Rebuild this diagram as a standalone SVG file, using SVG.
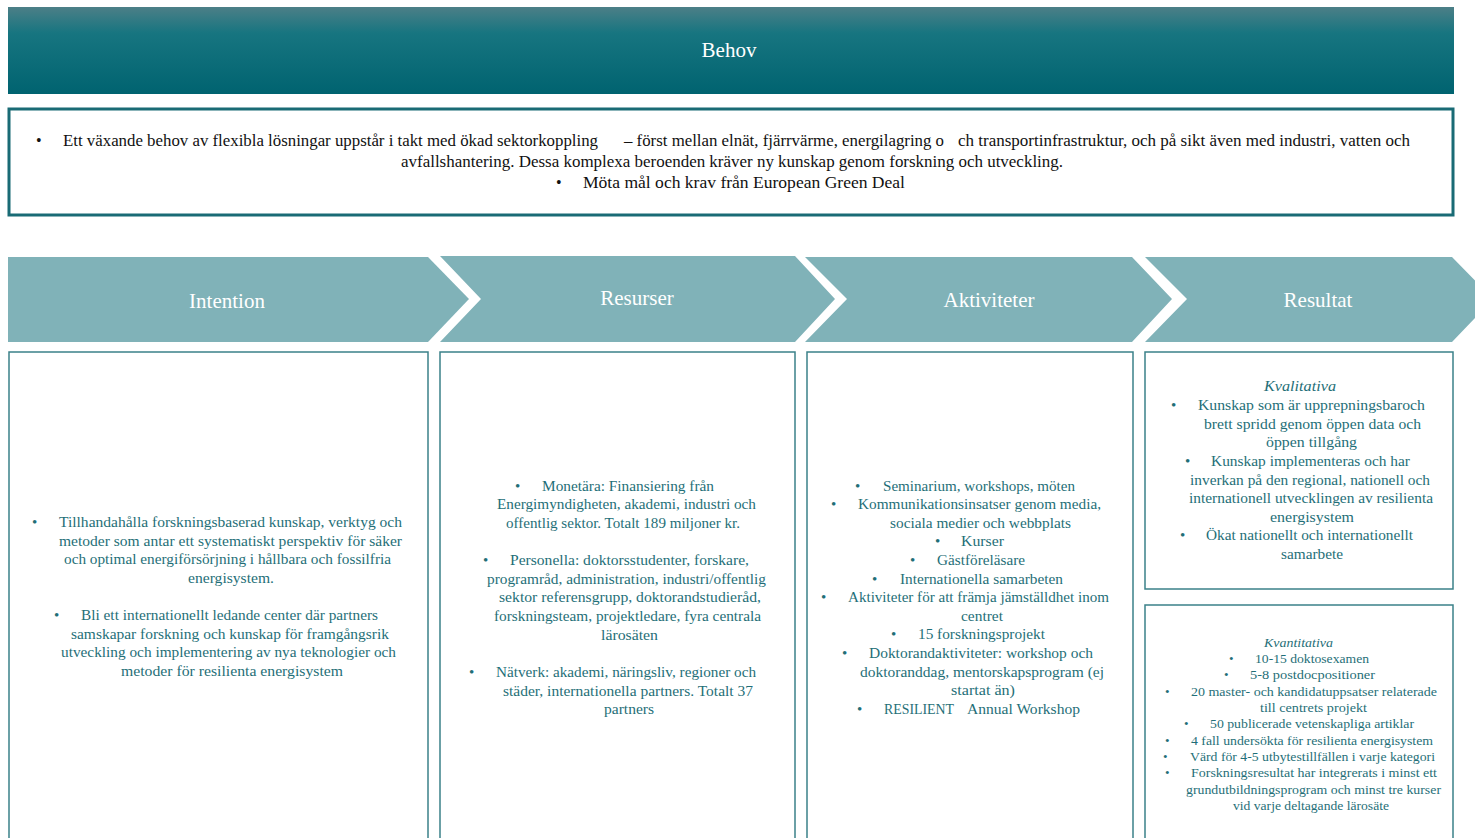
<svg xmlns="http://www.w3.org/2000/svg" width="1475" height="838" viewBox="0 0 1475 838">
<defs>
<linearGradient id="hdr" x1="0" y1="0" x2="0" y2="1">
<stop offset="0" stop-color="#4c7f87"/>
<stop offset="0.3" stop-color="#177580"/>
<stop offset="1" stop-color="#006370"/>
</linearGradient>
<style>
text{font-family:"Liberation Serif","Times New Roman",serif;}
.hdr{font-size:21px;fill:#ffffff;text-anchor:middle;}
.top{font-size:16px;fill:#111111;}
.c{font-size:15px;fill:#1f6f78;}
.s{font-size:13px;fill:#1f6f78;}
.it{font-style:italic;}
.chev{fill:#80b2b8;}
.box{fill:#ffffff;stroke:#3b8189;stroke-width:1.5;}
</style>
</defs>
<rect width="1475" height="838" fill="#ffffff"/>

<g id="behov">
<rect x="8" y="7" width="1446" height="87" fill="url(#hdr)"/>
<text class="hdr" x="729" y="57">Behov</text>
</g>

<g id="behov-text">
<rect x="9" y="109" width="1444" height="106" fill="#ffffff" stroke="#196b75" stroke-width="3"/>
<text class="top" x="36" y="146">•</text>
<text class="top" x="63" y="146" textLength="535" lengthAdjust="spacingAndGlyphs">Ett växande behov av flexibla lösningar uppstår i takt med ökad sektorkoppling</text>
<text class="top" x="624" y="146" textLength="320" lengthAdjust="spacingAndGlyphs">– först mellan elnät, fjärrvärme, energilagring o</text>
<text class="top" x="958" y="146" textLength="452" lengthAdjust="spacingAndGlyphs">ch transportinfrastruktur, och på sikt även med industri, vatten och</text>
<text class="top" x="401" y="167" textLength="662" lengthAdjust="spacingAndGlyphs">avfallshantering. Dessa komplexa beroenden kräver ny kunskap genom forskning och utveckling.</text>
<text class="top" x="556" y="188">•</text>
<text class="top" x="583" y="188" textLength="322" lengthAdjust="spacingAndGlyphs">Möta mål och krav från European Green Deal</text>
</g>

<g id="intention">
<polygon class="chev" points="8,257 428,257 469,299 428,342 8,342"/>
<text class="hdr" x="227" y="308">Intention</text>
<rect class="box" x="9" y="352" width="419" height="500"/>
<text class="c" x="32" y="527">•</text>
<text class="c" x="59" y="527" textLength="343" lengthAdjust="spacingAndGlyphs">Tillhandahålla forskningsbaserad kunskap, verktyg och</text>
<text class="c" x="59" y="546" textLength="343" lengthAdjust="spacingAndGlyphs">metoder som antar ett systematiskt perspektiv för säker</text>
<text class="c" x="64" y="564" textLength="327" lengthAdjust="spacingAndGlyphs">och optimal energiförsörjning i hållbara och fossilfria</text>
<text class="c" x="188" y="583" textLength="86" lengthAdjust="spacingAndGlyphs">energisystem.</text>
<text class="c" x="54" y="620">•</text>
<text class="c" x="81" y="620" textLength="297" lengthAdjust="spacingAndGlyphs">Bli ett internationellt ledande center där partners</text>
<text class="c" x="71" y="639" textLength="318" lengthAdjust="spacingAndGlyphs">samskapar forskning och kunskap för framgångsrik</text>
<text class="c" x="61" y="657" textLength="335" lengthAdjust="spacingAndGlyphs">utveckling och implementering av nya teknologier och</text>
<text class="c" x="121" y="676" textLength="222" lengthAdjust="spacingAndGlyphs">metoder för resilienta energisystem</text>
</g>

<g id="resurser">
<polygon class="chev" points="440,256 795,256 835,299 795,342 440,342 481,299"/>
<text class="hdr" x="637" y="305">Resurser</text>
<rect class="box" x="440" y="352" width="355" height="500"/>
<text class="c" x="515" y="491">•</text>
<text class="c" x="542" y="491" textLength="172" lengthAdjust="spacingAndGlyphs">Monetära: Finansiering från</text>
<text class="c" x="497" y="509" textLength="259" lengthAdjust="spacingAndGlyphs">Energimyndigheten, akademi, industri och</text>
<text class="c" x="506" y="528" textLength="234" lengthAdjust="spacingAndGlyphs">offentlig sektor. Totalt 189 miljoner kr.</text>
<text class="c" x="483" y="565">•</text>
<text class="c" x="510" y="565" textLength="239" lengthAdjust="spacingAndGlyphs">Personella: doktorsstudenter, forskare,</text>
<text class="c" x="487" y="584" textLength="279" lengthAdjust="spacingAndGlyphs">programråd, administration, industri/offentlig</text>
<text class="c" x="499" y="602" textLength="262" lengthAdjust="spacingAndGlyphs">sektor referensgrupp, doktorandstudieråd,</text>
<text class="c" x="494" y="621" textLength="267" lengthAdjust="spacingAndGlyphs">forskningsteam, projektledare, fyra centrala</text>
<text class="c" x="601" y="640" textLength="57" lengthAdjust="spacingAndGlyphs">lärosäten</text>
<text class="c" x="469" y="677">•</text>
<text class="c" x="496" y="677" textLength="260" lengthAdjust="spacingAndGlyphs">Nätverk: akademi, näringsliv, regioner och</text>
<text class="c" x="503" y="696" textLength="250" lengthAdjust="spacingAndGlyphs">städer, internationella partners. Totalt 37</text>
<text class="c" x="604" y="714" textLength="50" lengthAdjust="spacingAndGlyphs">partners</text>
</g>

<g id="aktiviteter">
<polygon class="chev" points="805,257 1132,257 1172,299 1132,342 805,342 847,299"/>
<text class="hdr" x="989" y="307">Aktiviteter</text>
<rect class="box" x="807" y="352" width="326" height="500"/>
<text class="c" x="855" y="491">•</text>
<text class="c" x="883" y="491" textLength="192" lengthAdjust="spacingAndGlyphs">Seminarium, workshops, möten</text>
<text class="c" x="831" y="509">•</text>
<text class="c" x="858" y="509" textLength="243" lengthAdjust="spacingAndGlyphs">Kommunikationsinsatser genom media,</text>
<text class="c" x="890" y="528" textLength="181" lengthAdjust="spacingAndGlyphs">sociala medier och webbplats</text>
<text class="c" x="935" y="546">•</text>
<text class="c" x="961" y="546" textLength="43" lengthAdjust="spacingAndGlyphs">Kurser</text>
<text class="c" x="910" y="565">•</text>
<text class="c" x="937" y="565" textLength="88" lengthAdjust="spacingAndGlyphs">Gästföreläsare</text>
<text class="c" x="872" y="584">•</text>
<text class="c" x="900" y="584" textLength="163" lengthAdjust="spacingAndGlyphs">Internationella samarbeten</text>
<text class="c" x="821" y="602">•</text>
<text class="c" x="848" y="602" textLength="261" lengthAdjust="spacingAndGlyphs">Aktiviteter för att främja jämställdhet inom</text>
<text class="c" x="961" y="621" textLength="42" lengthAdjust="spacingAndGlyphs">centret</text>
<text class="c" x="891" y="639">•</text>
<text class="c" x="918" y="639" textLength="127" lengthAdjust="spacingAndGlyphs">15 forskningsprojekt</text>
<text class="c" x="842" y="658">•</text>
<text class="c" x="869" y="658" textLength="224" lengthAdjust="spacingAndGlyphs">Doktorandaktiviteter: workshop och</text>
<text class="c" x="860" y="677" textLength="244" lengthAdjust="spacingAndGlyphs">doktoranddag, mentorskapsprogram (ej</text>
<text class="c" x="951" y="695" textLength="64" lengthAdjust="spacingAndGlyphs">startat än)</text>
<text class="c" x="857" y="714">•</text>
<text class="c" x="884" y="714" textLength="70" lengthAdjust="spacingAndGlyphs">RESILIENT</text>
<text class="c" x="967" y="714" textLength="113" lengthAdjust="spacingAndGlyphs">Annual Workshop</text>
</g>

<g id="resultat">
<polygon class="chev" points="1145,257 1452,257 1493,299 1452,342 1145,342 1187,299"/>
<text class="hdr" x="1318" y="307">Resultat</text>
</g>

<g id="kvalitativa">
<rect class="box" x="1145" y="352" width="308" height="237"/>
<text class="c it" x="1264" y="391" textLength="72" lengthAdjust="spacingAndGlyphs">Kvalitativa</text>
<text class="c" x="1171" y="410">•</text>
<text class="c" x="1198" y="410" textLength="227" lengthAdjust="spacingAndGlyphs">Kunskap som är upprepningsbaroch</text>
<text class="c" x="1204" y="429" textLength="217" lengthAdjust="spacingAndGlyphs">brett spridd genom öppen data och</text>
<text class="c" x="1266" y="447" textLength="91" lengthAdjust="spacingAndGlyphs">öppen tillgång</text>
<text class="c" x="1185" y="466">•</text>
<text class="c" x="1211" y="466" textLength="199" lengthAdjust="spacingAndGlyphs">Kunskap implementeras och har</text>
<text class="c" x="1190" y="485" textLength="240" lengthAdjust="spacingAndGlyphs">inverkan på den regional, nationell och</text>
<text class="c" x="1189" y="503" textLength="244" lengthAdjust="spacingAndGlyphs">internationell utvecklingen av resilienta</text>
<text class="c" x="1270" y="522" textLength="84" lengthAdjust="spacingAndGlyphs">energisystem</text>
<text class="c" x="1180" y="540">•</text>
<text class="c" x="1206" y="540" textLength="207" lengthAdjust="spacingAndGlyphs">Ökat nationellt och internationellt</text>
<text class="c" x="1281" y="559" textLength="62" lengthAdjust="spacingAndGlyphs">samarbete</text>
</g>

<g id="kvantitativa">
<rect class="box" x="1145" y="605" width="308" height="250"/>
<text class="s it" x="1264" y="647" textLength="69" lengthAdjust="spacingAndGlyphs">Kvantitativa</text>
<text class="s" x="1229" y="663">•</text>
<text class="s" x="1255" y="663" textLength="114" lengthAdjust="spacingAndGlyphs">10-15 doktosexamen</text>
<text class="s" x="1224" y="679">•</text>
<text class="s" x="1250" y="679" textLength="125" lengthAdjust="spacingAndGlyphs">5-8 postdocpositioner</text>
<text class="s" x="1165" y="696">•</text>
<text class="s" x="1191" y="696" textLength="246" lengthAdjust="spacingAndGlyphs">20 master- och kandidatuppsatser relaterade</text>
<text class="s" x="1260" y="712" textLength="107" lengthAdjust="spacingAndGlyphs">till centrets projekt</text>
<text class="s" x="1184" y="728">•</text>
<text class="s" x="1210" y="728" textLength="204" lengthAdjust="spacingAndGlyphs">50 publicerade vetenskapliga artiklar</text>
<text class="s" x="1165" y="745">•</text>
<text class="s" x="1191" y="745" textLength="242" lengthAdjust="spacingAndGlyphs">4 fall undersökta för resilienta energisystem</text>
<text class="s" x="1163" y="761">•</text>
<text class="s" x="1190" y="761" textLength="245" lengthAdjust="spacingAndGlyphs">Värd för 4-5 utbytestillfällen i varje kategori</text>
<text class="s" x="1165" y="777">•</text>
<text class="s" x="1191" y="777" textLength="246" lengthAdjust="spacingAndGlyphs">Forskningsresultat har integrerats i minst ett</text>
<text class="s" x="1186" y="794" textLength="255" lengthAdjust="spacingAndGlyphs">grundutbildningsprogram och minst tre kurser</text>
<text class="s" x="1233" y="810" textLength="156" lengthAdjust="spacingAndGlyphs">vid varje deltagande lärosäte</text>
</g>

<g id="connectors"/>
</svg>
